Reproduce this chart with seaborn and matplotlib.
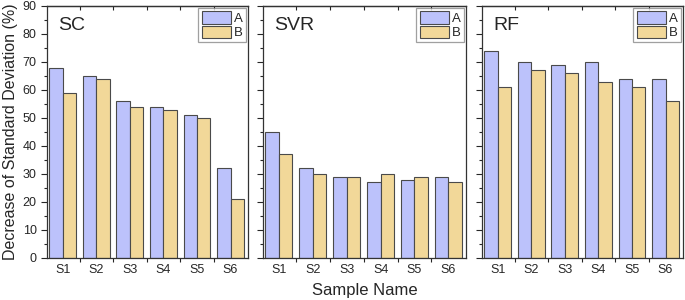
import matplotlib
matplotlib.use("Agg")
import matplotlib.pyplot as plt
import seaborn as sns
import pandas as pd
from matplotlib.ticker import MultipleLocator, FixedLocator

samples = ["S1", "S2", "S3", "S4", "S5", "S6"]
series = ["A", "B"]
models = ["SC", "SVR", "RF"]

sc_a = [68, 65, 56, 54, 51, 32]
sc_b = [59, 64, 54, 53, 50, 21]
svr_a = [45, 32, 29, 27, 28, 29]
svr_b = [37, 30, 29, 30, 29, 27]
rf_a = [74, 70, 69, 70, 64, 64]
rf_b = [61, 67, 66, 63, 61, 56]

values = {"SC": (sc_a, sc_b), "SVR": (svr_a, svr_b), "RF": (rf_a, rf_b)}

colors = {"A": "#BCC2FB", "B": "#F2D899"}

sns.set_style("ticks")
plt.rcParams["font.family"] = ["Liberation Sans", "DejaVu Sans"]

fig = plt.figure(figsize=(6.85, 3.0), dpi=100)
positions = [
    [47 / 685, 0.14, 201 / 685, 0.84],
    [263 / 685, 0.14, 203 / 685, 0.84],
    [482 / 685, 0.14, 201 / 685, 0.84],
]
bounds = [0.5, 1.5, 2.5, 3.5, 4.5]

for i, m in enumerate(models):
    ax = fig.add_axes(positions[i])
    a, b = values[m]
    df = pd.DataFrame({
        "Sample": samples * 2,
        "Series": ["A"] * len(samples) + ["B"] * len(samples),
        "Value": list(a) + list(b),
    })
    sns.barplot(data=df, x="Sample", y="Value", hue="Series", order=samples,
                hue_order=series, palette=colors, width=0.8, gap=0,
                edgecolor="#4a4a4a", linewidth=0.8, saturation=1, ax=ax,
                errorbar=None)
    ax.set_xlim(-0.47, 5.52)
    ax.set_ylim(0, 90)
    ax.yaxis.set_major_locator(MultipleLocator(10))
    ax.yaxis.set_minor_locator(MultipleLocator(5))
    ax.xaxis.set_minor_locator(FixedLocator(bounds))
    ax.tick_params(axis="x", which="major", length=0, labelsize=9, pad=4)
    ax.tick_params(axis="x", which="minor", length=3, width=0.8,
                   direction="out")
    ax.tick_params(axis="y", which="major", length=4, width=0.8,
                   labelsize=9, direction="out")
    ax.tick_params(axis="y", which="minor", length=2, width=0.8,
                   direction="out")
    top = ax.secondary_xaxis("top")
    top.set_xticks(bounds)
    top.tick_params(direction="in", length=3, width=0.8, labeltop=False)
    top.spines["top"].set_linewidth(0.9)
    top.spines["top"].set_color("#333333")
    for sp in ax.spines.values():
        sp.set_visible(True)
        sp.set_linewidth(0.9)
        sp.set_color("#333333")
    if i == 0:
        ax.set_ylabel("Decrease of Standard Deviation (%)", fontsize=11.5,
                      labelpad=3)
    else:
        ax.set_ylabel("")
        ax.tick_params(axis="y", labelleft=False)
    if i == 1:
        ax.set_xlabel("Sample Name", fontsize=12, labelpad=5)
    else:
        ax.set_xlabel("")
    ax.text(0.055, 0.955, m, transform=ax.transAxes, fontsize=14,
            ha="left", va="top")
    leg = ax.legend(loc="upper right", fontsize=9.5, frameon=True,
                    fancybox=False, edgecolor="#888888",
                    handlelength=2.2, handleheight=1.05, labelspacing=0.05,
                    handletextpad=0.25, borderpad=0.25, borderaxespad=0.15,
                    title=None)
    leg.get_frame().set_linewidth(0.9)

fig.savefig("out.png", dpi=100)
